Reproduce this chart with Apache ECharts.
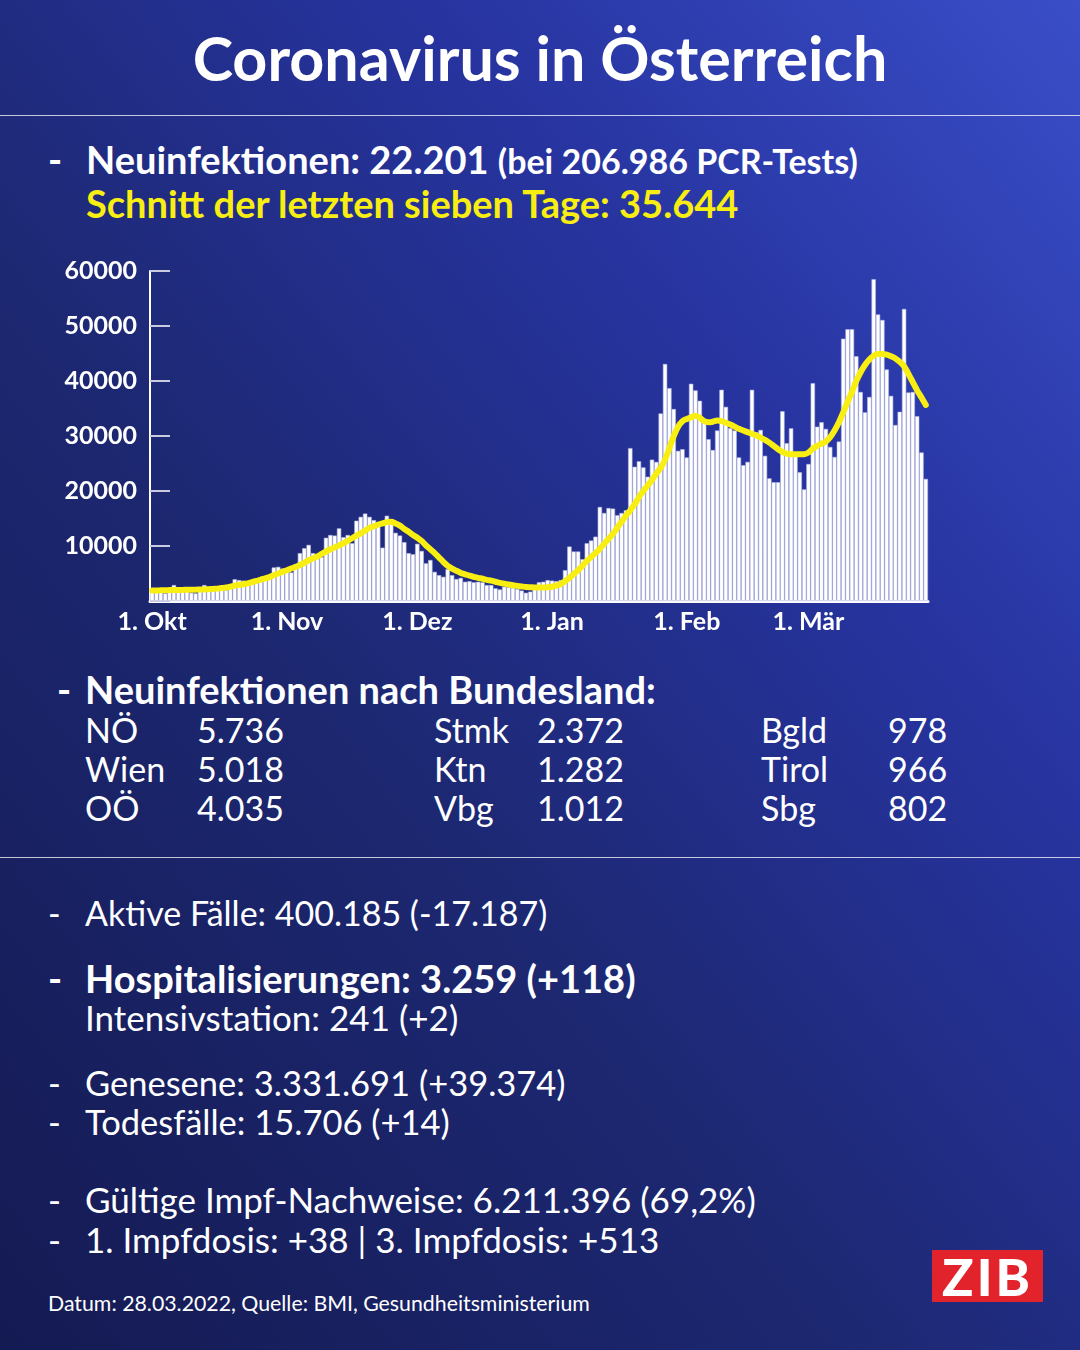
<!DOCTYPE html>
<html lang="de">
<head>
<meta charset="UTF-8">
<title>Coronavirus in Österreich</title>
<script src="https://cdn.jsdelivr.net/npm/echarts@6/dist/echarts.min.js"></script>
<style>
  body { margin: 0; }
  #page {
    position: relative; width: 1080px; height: 1350px; overflow: hidden;
    background: linear-gradient(to top right, #141a52 0%, #1d2872 40%, #2734a0 70%, #3a4ec8 100%);
    font-family: Lato, 'Open Sans', sans-serif; color: #fff;
  }
  #chart { position: absolute; left: 0; top: 0; width: 1080px; height: 1350px; }
  .t { position: absolute; white-space: nowrap; line-height: 1; font-size: 34px; }
  .b { font-weight: 700; font-size: 38px; }
  .rule { position: absolute; left: 0; width: 1080px; height: 1px; background: rgba(255,255,255,0.75); }
  .yel { color: #f8ee12; }
  #zib {
    position: absolute; left: 932px; top: 1250px; width: 111px; height: 52px; background: #e3232b;
    font-weight: 900; font-size: 52px; line-height: 52px; text-align: center; letter-spacing: 3px;
  }
</style>
</head>
<body>
<div id="page">
  <div class="t" style="left:0;width:1080px;text-align:center;top:27px;font-size:61px;font-weight:700;">Coronavirus in Österreich</div>
  <div class="rule" style="top:115px;"></div>

  <div class="t b" style="left:48px;top:140px;">-</div>
  <div class="t b" style="left:86px;top:140px;">Neuinfektionen: 22.201 <span style="font-size:34px;">(bei 206.986 PCR-Tests)</span></div>
  <div class="t b yel" style="left:86px;top:184px;">Schnitt der letzten sieben Tage: 35.644</div>

  <div class="t b" style="left:57px;top:670px;">-</div>
  <div class="t b" style="left:85px;top:670px;">Neuinfektionen nach Bundesland:</div>

  <div class="t" style="left:85px;top:713px;">NÖ</div>
  <div class="t" style="left:197px;top:713px;">5.736</div>
  <div class="t" style="left:85px;top:752px;">Wien</div>
  <div class="t" style="left:197px;top:752px;">5.018</div>
  <div class="t" style="left:85px;top:791px;">OÖ</div>
  <div class="t" style="left:197px;top:791px;">4.035</div>

  <div class="t" style="left:434px;top:713px;">Stmk</div>
  <div class="t" style="left:537px;top:713px;">2.372</div>
  <div class="t" style="left:434px;top:752px;">Ktn</div>
  <div class="t" style="left:537px;top:752px;">1.282</div>
  <div class="t" style="left:434px;top:791px;">Vbg</div>
  <div class="t" style="left:537px;top:791px;">1.012</div>

  <div class="t" style="left:761px;top:713px;">Bgld</div>
  <div class="t" style="left:888px;top:713px;">978</div>
  <div class="t" style="left:761px;top:752px;">Tirol</div>
  <div class="t" style="left:888px;top:752px;">966</div>
  <div class="t" style="left:761px;top:791px;">Sbg</div>
  <div class="t" style="left:888px;top:791px;">802</div>

  <div class="rule" style="top:857px;"></div>

  <div class="t" style="left:48px;top:896px;">-</div>
  <div class="t" style="left:85px;top:896px;">Aktive Fälle: 400.185 (-17.187)</div>

  <div class="t b" style="left:48px;top:959px;">-</div>
  <div class="t b" style="left:85px;top:959px;">Hospitalisierungen: 3.259 (+118)</div>
  <div class="t" style="left:85px;top:1000px;font-size:35px;">Intensivstation: 241 (+2)</div>

  <div class="t" style="left:48px;top:1066px;font-size:34.5px;">-</div>
  <div class="t" style="left:85px;top:1066px;font-size:34.5px;">Genesene: 3.331.691 (+39.374)</div>
  <div class="t" style="left:48px;top:1105px;font-size:34.5px;">-</div>
  <div class="t" style="left:85px;top:1105px;font-size:34.5px;">Todesfälle: 15.706 (+14)</div>

  <div class="t" style="left:48px;top:1182px;font-size:35px;">-</div>
  <div class="t" style="left:85px;top:1182px;font-size:35px;">Gültige Impf-Nachweise: 6.211.396 (69,2%)</div>
  <div class="t" style="left:48px;top:1222px;font-size:35px;">-</div>
  <div class="t" style="left:85px;top:1222px;font-size:35px;">1. Impfdosis: +38 | 3. Impfdosis: +513</div>

  <div class="t" style="left:48px;top:1293px;font-size:21.3px;">Datum: 28.03.2022, Quelle: BMI, Gesundheitsministerium</div>
  <div id="zib">ZIB</div>

  <div id="chart"></div>
</div>
<script>
// Neuinfektionen pro Tag, 1. Okt 2021 bis 28. Mär 2022
const startDate = '2021-10-01';
const newCases = [
  2200, 2000, 1600, 1400, 2300, 2900, 2400, 2200, 2000, 1500,
  1400, 2300, 2900, 2600, 2400, 2500, 2300, 2000, 3000, 3950,
  3800, 3700, 3600, 3300, 3300, 3900, 4400, 4500, 6100, 6200,
  5900, 5400, 5200, 6700, 8700, 9600, 10200, 8700, 7900, 8000,
  11500, 12000, 11900, 13200, 11600, 12000, 10500, 14600, 15300, 15900,
  15300, 14700, 14200, 9700, 15500, 14700, 12400, 11900, 10700, 8700,
  8500, 10400, 9100, 6850, 7450, 5300, 4700, 4400, 5800, 4700,
  4000, 4200, 3500, 3600, 3400, 3500, 3400, 2900, 2900, 2300,
  2100, 2600, 2500, 2400, 2200, 1900, 1500, 1700, 2600, 3400,
  3500, 3800, 3700, 3600, 3800, 5600, 9900, 9000, 9000, 7600,
  10500, 11000, 11700, 17100, 16000, 16900, 16800, 15600, 16000, 16500,
  27800, 24400, 25400, 24300, 22600, 25700, 25300, 34100, 43100, 38700,
  34900, 27300, 27600, 26100, 39500, 38300, 36400, 32500, 29400, 27450,
  31000, 38400, 35300, 31400, 31000, 26100, 24700, 25300, 38400, 30700,
  31100, 26400, 22300, 21600, 21600, 34500, 28700, 31400, 26700, 23400,
  20300, 24900, 39600, 31700, 32500, 31300, 28000, 26200, 29000, 47700,
  49400, 49400, 44500, 38000, 34300, 37100, 58500, 52100, 51100, 42100,
  37300, 32000, 34400, 53100, 37900, 38000, 33600, 27000, 22201
];
// Sieben-Tage-Schnitt (gelbe Linie)
const avg7 = [
  1900, 1900, 1950, 1950, 2000, 2000, 2000, 2000, 2050, 2050,
  2050, 2100, 2100, 2150, 2200, 2250, 2350, 2450, 2600, 2800,
  2950, 3050, 3200, 3450, 3650, 3900, 4100, 4350, 4700, 5000,
  5300, 5600, 5900, 6200, 6550, 6950, 7400, 7750, 8100, 8550,
  9000, 9400, 9750, 10100, 10500, 10950, 11400, 11900, 12300, 12800,
  13300, 13600, 13900, 14100, 14350, 14400, 14100, 13700, 13100, 12600,
  12000, 11500, 10900, 10100, 9400, 8700, 7900, 7100, 6400, 5900,
  5500, 5100, 4850, 4600, 4400, 4200, 4050, 3850, 3700, 3500,
  3300, 3150, 3000, 2850, 2750, 2650, 2550, 2500, 2450, 2450,
  2450, 2500, 2600, 2800, 3100, 3600, 4200, 4900, 5600, 6400,
  7300, 8000, 8700, 9500, 10400, 11300, 12200, 13300, 14400, 15500,
  16500, 17600, 18900, 20000, 21000, 22000, 23200, 24200, 25700, 27800,
  30000, 31700, 32700, 33100, 33400, 33700, 33300, 32700, 32500, 32600,
  32800, 32700, 32400, 32100, 31700, 31300, 31000, 30700, 30400, 30100,
  29700, 29300, 28800, 28200, 27600, 27100, 26800, 26700, 26700, 26700,
  26700, 27000, 27700, 28200, 28600, 29000, 29800, 31000, 32500, 34300,
  36200, 38000, 40000, 41600, 42900, 43900, 44600, 44900, 44900, 44800,
  44500, 44100, 43500, 42700, 41300, 39800, 38300, 37000, 35644
];
const monthLabels = ['Jan', 'Feb', 'Mär', 'Apr', 'Mai', 'Jun', 'Jul', 'Aug', 'Sep', 'Okt', 'Nov', 'Dez'];

// Tage als Kategorien
const categories = [];
const d0 = new Date(startDate + 'T12:00:00');
for (let i = 0; i < newCases.length; i++) {
    const d = new Date(d0.getTime() + i * 86400000);
    categories.push(d.getFullYear() + '-' + (d.getMonth() + 1) + '-' + d.getDate());
}

const chart = echarts.init(document.getElementById('chart'));
chart.setOption({
    animation: false,
    grid: { left: 150, top: 271, width: 778, height: 330 },
    xAxis: {
        type: 'category',
        data: categories,
        axisLine: { lineStyle: { color: '#fff', width: 3 } },
        axisTick: { show: false },
        axisLabel: {
            interval: (idx, val) => val.endsWith('-1'),
            formatter: val => '1. ' + monthLabels[Number(val.split('-')[1]) - 1],
            color: '#fff',
            fontFamily: 'Lato',
            fontWeight: 700,
            fontSize: 25,
            margin: 8,
        },
    },
    yAxis: {
        type: 'value',
        min: 0,
        max: 60000,
        interval: 10000,
        splitLine: { show: false },
        axisLine: { show: true, lineStyle: { color: '#fff', width: 2 } },
        axisTick: { show: true, inside: true, length: 20, lineStyle: { color: '#c9cbe0', width: 2 } },
        axisLabel: {
            formatter: v => (v === 0 ? '' : String(v)),
            color: '#fff',
            fontFamily: 'Lato',
            fontWeight: 700,
            fontSize: 25,
            margin: 13,
        },
    },
    series: [
        {
            type: 'bar',
            data: newCases,
            barCategoryGap: '0%',
            itemStyle: { color: '#ffffff', borderColor: '#b3b8e4', borderWidth: 0.6 },
            silent: true,
        },
        {
            type: 'line',
            data: avg7,
            smooth: 0.3,
            symbol: 'none',
            lineStyle: { color: '#f8ee12', width: 6, cap: 'round', join: 'round' },
            silent: true,
            z: 5,
        },
    ],
});
</script>
</body>
</html>
